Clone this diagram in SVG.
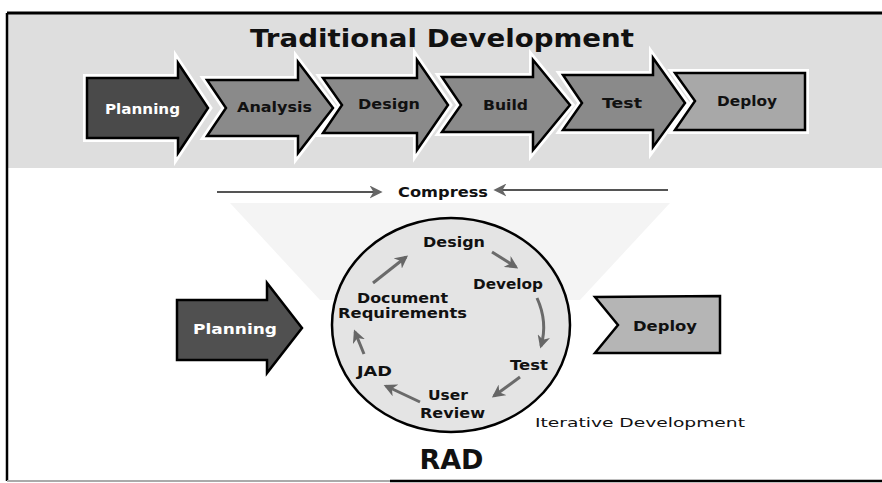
<svg xmlns="http://www.w3.org/2000/svg" width="882" height="483" viewBox="0 0 882 483">
<defs>
<style>
.lbl{font-family:"DejaVu Sans","Verdana",sans-serif;font-weight:bold;font-size:14px;text-anchor:middle;fill:#111}
.wl{fill:#fff}
.chev{stroke:#000;stroke-width:2.5;stroke-linejoin:miter}
.halo{fill:none;stroke:#fff;stroke-width:8;stroke-linejoin:miter}
.cyc{fill:none;stroke:#6a6a6a;stroke-width:3}
.cmp{fill:none;stroke:#555;stroke-width:2}
</style>
<marker id="ah" viewBox="0 0 10 10" refX="8" refY="5" markerWidth="13" markerHeight="13" markerUnits="userSpaceOnUse" orient="auto">
<path d="M0,0 L10,5 L0,10 L3,5 z" fill="#666"/>
</marker>
</defs>
<rect width="882" height="483" fill="#fff"/>
<rect x="7" y="13" width="875" height="155" fill="#dedede"/>
<polygon points="230,203 670,203 580,300 320,300" fill="#f4f4f4"/>
<g id="frame" fill="none" stroke="#000">
<path d="M7,13 L882,13" stroke-width="3"/>
<path d="M7,13 L7,481" stroke-width="2.5"/>
<path d="M7,481 L390,481" stroke="#aaa" stroke-width="2"/>
<path d="M390,481 L882,481" stroke-width="2.5"/>
</g>
<text id="title" x="442" y="47" class="lbl" style="font-size:24px" textLength="384" lengthAdjust="spacingAndGlyphs">Traditional Development</text>
<g id="t-planning">
<polygon class="halo" points="87,78 178,78 178,63 208,108 178,153 178,138 87,138"/>
<polygon class="chev" fill="#4a4a4a" points="87,78 178,78 178,63 208,108 178,153 178,138 87,138"/>
<text class="lbl wl" x="142.5" y="114" textLength="75" lengthAdjust="spacingAndGlyphs">Planning</text>
</g>
<g id="t-analysis">
<polygon class="halo" points="207,80 298,80 298,62 333,108 298,153 298,136 207,136 226,108"/>
<polygon class="chev" fill="#8a8a8a" points="207,80 298,80 298,62 333,108 298,153 298,136 207,136 226,108"/>
<text class="lbl" x="274.5" y="112" textLength="75" lengthAdjust="spacingAndGlyphs">Analysis</text>
</g>
<g id="t-design">
<polygon class="halo" points="323,78 417,78 417,60 448,105 417,150 417,133 323,133 342,105"/>
<polygon class="chev" fill="#8a8a8a" points="323,78 417,78 417,60 448,105 417,150 417,133 323,133 342,105"/>
<text class="lbl" x="389" y="109" textLength="62" lengthAdjust="spacingAndGlyphs">Design</text>
</g>
<g id="t-build">
<polygon class="halo" points="442,77 533,77 533,60 570,105 533,150 533,132 442,132 461,105"/>
<polygon class="chev" fill="#8a8a8a" points="442,77 533,77 533,60 570,105 533,150 533,132 442,132 461,105"/>
<text class="lbl" x="505.5" y="110" textLength="45" lengthAdjust="spacingAndGlyphs">Build</text>
</g>
<g id="t-test">
<polygon class="halo" points="563,75 653,75 653,58 685,103 653,147 653,130 563,130 582,103"/>
<polygon class="chev" fill="#8a8a8a" points="563,75 653,75 653,58 685,103 653,147 653,130 563,130 582,103"/>
<text class="lbl" x="622" y="108" textLength="40" lengthAdjust="spacingAndGlyphs">Test</text>
</g>
<g id="t-deploy">
<polygon class="halo" points="675,73 805,73 805,130 675,130 695,101"/>
<polygon class="chev" fill="#a8a8a8" points="675,73 805,73 805,130 675,130 695,101"/>
<text class="lbl" x="747" y="106" textLength="60" lengthAdjust="spacingAndGlyphs">Deploy</text>
</g>
<g id="compress">
<path class="cmp" d="M217,192 L380,192" marker-end="url(#ah)"/>
<path class="cmp" d="M668,190 L496,190" marker-end="url(#ah)"/>
<text class="lbl" x="443" y="197" textLength="90" lengthAdjust="spacingAndGlyphs">Compress</text>
</g>
<g id="rad-circle">
<ellipse cx="451" cy="325" rx="119" ry="107" fill="#e4e4e4" stroke="#000" stroke-width="2.5"/>
</g>
<g id="b-planning">
<polygon class="chev" fill="#505050" points="177,300 267,300 267,283 302,328 267,373 267,360 177,360"/>
<text class="lbl wl" x="235" y="334" textLength="84" lengthAdjust="spacingAndGlyphs">Planning</text>
</g>
<g id="b-deploy">
<polygon class="chev" fill="#b5b5b5" points="595,297 720,296 720,353 595,353 618,325"/>
<text class="lbl" x="665" y="331" textLength="64" lengthAdjust="spacingAndGlyphs">Deploy</text>
</g>
<g id="n-design"><text class="lbl" x="454" y="247" textLength="62" lengthAdjust="spacingAndGlyphs">Design</text></g>
<g id="n-develop"><text class="lbl" x="508" y="289" textLength="70" lengthAdjust="spacingAndGlyphs">Develop</text></g>
<g id="n-docreq">
<text class="lbl" x="402.5" y="303" textLength="91" lengthAdjust="spacingAndGlyphs">Document</text>
<text class="lbl" x="402.5" y="318" textLength="129" lengthAdjust="spacingAndGlyphs">Requirements</text>
</g>
<g id="n-test"><text class="lbl" x="529" y="370" textLength="38" lengthAdjust="spacingAndGlyphs">Test</text></g>
<g id="n-jad"><text class="lbl" x="374.5" y="376" textLength="35" lengthAdjust="spacingAndGlyphs">JAD</text></g>
<g id="n-userreview">
<text class="lbl" x="448" y="400" textLength="40" lengthAdjust="spacingAndGlyphs">User</text>
<text class="lbl" x="452.5" y="418" textLength="65" lengthAdjust="spacingAndGlyphs">Review</text>
</g>
<g id="connectors">
<path class="cyc" d="M373,283 L406,257" marker-end="url(#ah)"/>
<path class="cyc" d="M492,252 L516,267" marker-end="url(#ah)"/>
<path class="cyc" d="M537,298 Q548,322 541,346" marker-end="url(#ah)"/>
<path class="cyc" d="M520,377 L494,396" marker-end="url(#ah)"/>
<path class="cyc" d="M420,402 L386,386" marker-end="url(#ah)"/>
<path class="cyc" d="M364,354 L355,332" marker-end="url(#ah)"/>
</g>
<text id="iterative" x="535" y="427" style="font-family:'DejaVu Sans',Verdana,sans-serif;font-size:13px;fill:#111" textLength="210" lengthAdjust="spacingAndGlyphs">Iterative Development</text>
<text id="rad" x="451.5" y="469" class="lbl" style="font-size:27px">RAD</text>
</svg>
